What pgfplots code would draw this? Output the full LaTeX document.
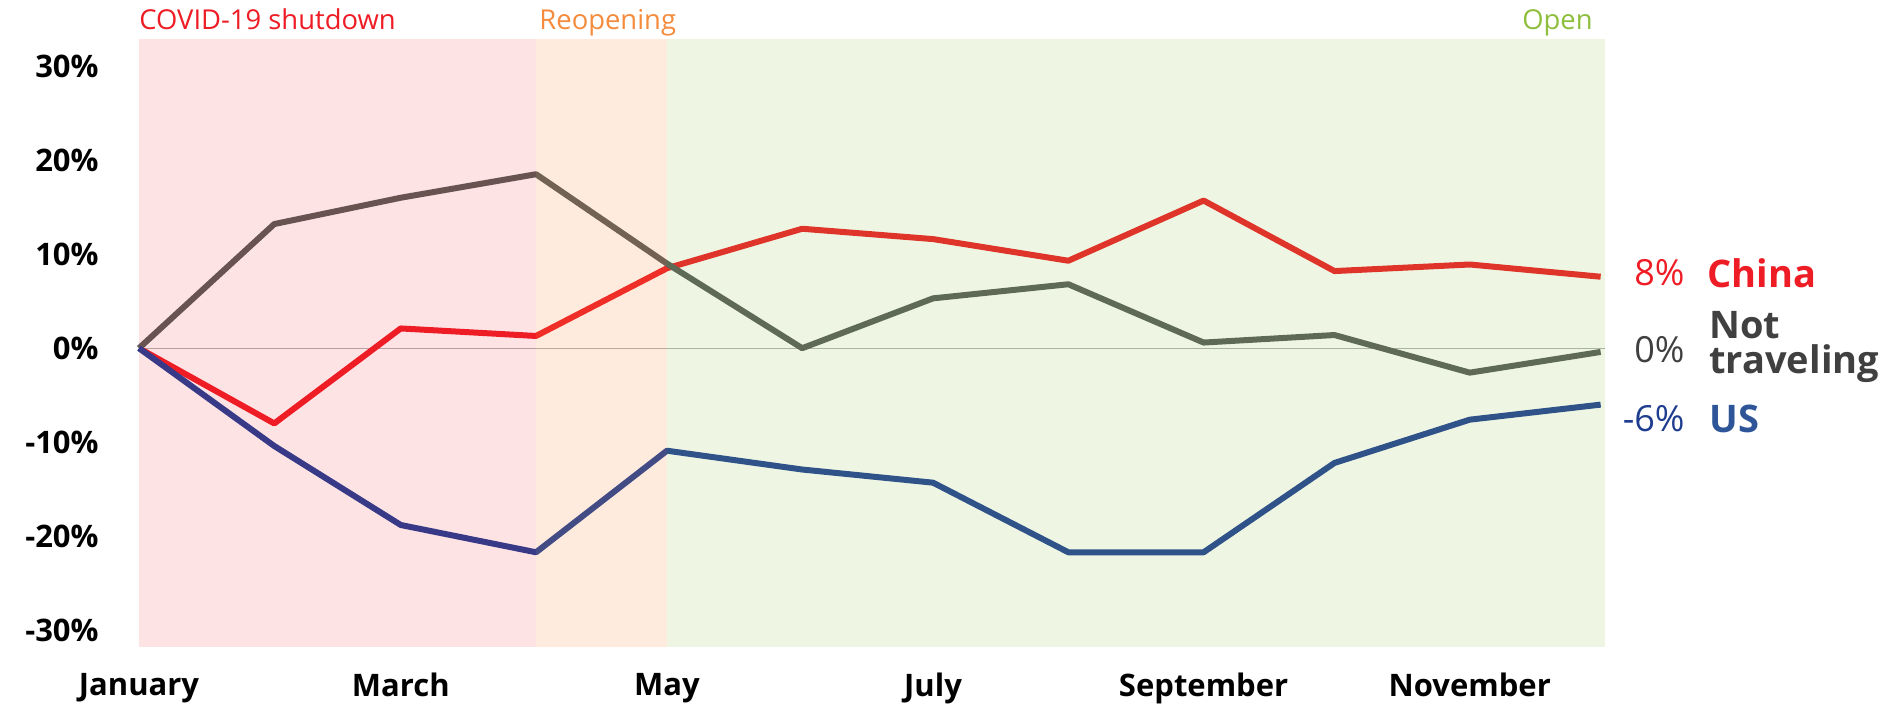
\documentclass[border=0pt]{standalone}
\usepackage{pgfplots}
\pgfplotsset{compat=1.18}
\usepackage{fontspec}
\setmainfont{Open Sans}
\definecolor{cnred}{HTML}{EE1C25}
\definecolor{ntgray}{HTML}{565B58}
\definecolor{usblue}{HTML}{1F3F95}
\definecolor{shpink}{HTML}{EE1C25}
\definecolor{shorange}{HTML}{F7883C}
\definecolor{shgreen}{HTML}{8EC344}
\definecolor{lblgray}{HTML}{404040}
\definecolor{lblblue}{HTML}{2E5597}
\definecolor{lblblue2}{HTML}{1F3D8F}
\definecolor{openlbl}{HTML}{8DBE3C}
\definecolor{reolbl}{HTML}{F58B3C}
% x = day of year (2020): Jan 0, Feb 31, Mar 60, Apr 91, May 121, Jun 152, Jul 182, Aug 213, Sep 244, Oct 274, Nov 305, Dec 335
\begin{document}
\begin{tikzpicture}
\path (-69.5pt,-29.7pt) rectangle (878pt,323.4pt);
\begin{axis}[
  scale only axis,
  width=733pt, height=304pt,
  xmin=0, xmax=336, ymin=-31.75, ymax=32.9,
  axis line style={draw=none},
  tick style={draw=none},
  clip=false,
  xtick={0,60,121,182,244,305},
  xticklabels={January,March,May,July,September,November},
  ytick={-30,-20,-10,0,10,20,30},
  yticklabels={-30\%,-20\%,-10\%,0\%,10\%,20\%,30\%},
  yticklabel style={font=\fontsize{15.5}{18}\selectfont\bfseries, anchor=east, inner sep=0pt, xshift=-20pt},
  xticklabel style={font=\fontsize{15.5}{18}\selectfont\bfseries, anchor=north, inner sep=0pt, yshift=-13pt},
]
\addplot[gray!60, line width=0.6pt, forget plot] coordinates {(0,0) (336,0)};
\addplot[cnred, line width=3pt, line join=round] coordinates {
(0,0) (31,-8.0) (60,2.1) (91,1.3) (121,8.5) (152,12.7) (182,11.6) (213,9.3) (244,15.7) (274,8.2) (305,8.9) (335,7.6)};
\addplot[ntgray, line width=3pt, line join=round] coordinates {
(0,0) (31,13.2) (60,16.0) (91,18.5) (121,9.0) (152,0) (182,5.3) (213,6.8) (244,0.6) (274,1.4) (305,-2.6) (335,-0.4)};
\addplot[usblue, line width=3pt, line join=round] coordinates {
(0,0) (31,-10.4) (60,-18.8) (91,-21.7) (121,-10.9) (152,-12.9) (182,-14.3) (213,-21.7) (244,-21.7) (274,-12.2) (305,-7.6) (335,-6.0)};
\addplot[draw=none, fill=shpink, fill opacity=0.12, forget plot] coordinates {(0,-31.75) (91,-31.75) (91,32.9) (0,32.9)} -- cycle;
\addplot[draw=none, fill=shorange, fill opacity=0.17, forget plot] coordinates {(91,-31.75) (121,-31.75) (121,32.9) (91,32.9)} -- cycle;
\addplot[draw=none, fill=shgreen, fill opacity=0.15, forget plot] coordinates {(121,-31.75) (336,-31.75) (336,32.9) (121,32.9)} -- cycle;
% phase labels
\node[anchor=base west, inner sep=0pt, text=cnred, font=\fontsize{13.7}{15}\selectfont] at (axis cs:0,32.9) [yshift=4.8pt] {COVID-19 shutdown};
\node[anchor=base west, inner sep=0pt, text=reolbl, font=\fontsize{13.7}{15}\selectfont] at (axis cs:91,32.9) [yshift=4.8pt,xshift=1.5pt] {Reopening};
\node[anchor=base east, inner sep=0pt, text=openlbl, font=\fontsize{13.7}{15}\selectfont] at (axis cs:336,32.9) [yshift=4.8pt,xshift=-6pt] {Open};
% end labels
\node[anchor=east, inner sep=0pt, text=cnred, font=\fontsize{18}{20}\selectfont] at (axis cs:336,8.0) [xshift=40pt] {8\%};
\node[anchor=west, inner sep=0pt, text=cnred, font=\fontsize{19}{21}\selectfont\bfseries] at (axis cs:336,8.0) [xshift=51pt] {China};
\node[anchor=east, inner sep=0pt, text=lblgray, font=\fontsize{18}{20}\selectfont] at (axis cs:336,-0.2) [xshift=40pt] {0\%};
\node[anchor=west, inner sep=0pt, text=lblgray, align=left, font=\fontsize{19}{17.7}\selectfont\bfseries] at (axis cs:336,0.1) [xshift=52pt] {Not\\traveling};
\node[anchor=east, inner sep=0pt, text=lblblue2, font=\fontsize{18}{20}\selectfont] at (axis cs:336,-7.5) [xshift=40pt] {-6\%};
\node[anchor=west, inner sep=0pt, text=lblblue, font=\fontsize{19}{21}\selectfont\bfseries] at (axis cs:336,-7.5) [xshift=52pt] {US};
\end{axis}
\end{tikzpicture}
\end{document}
